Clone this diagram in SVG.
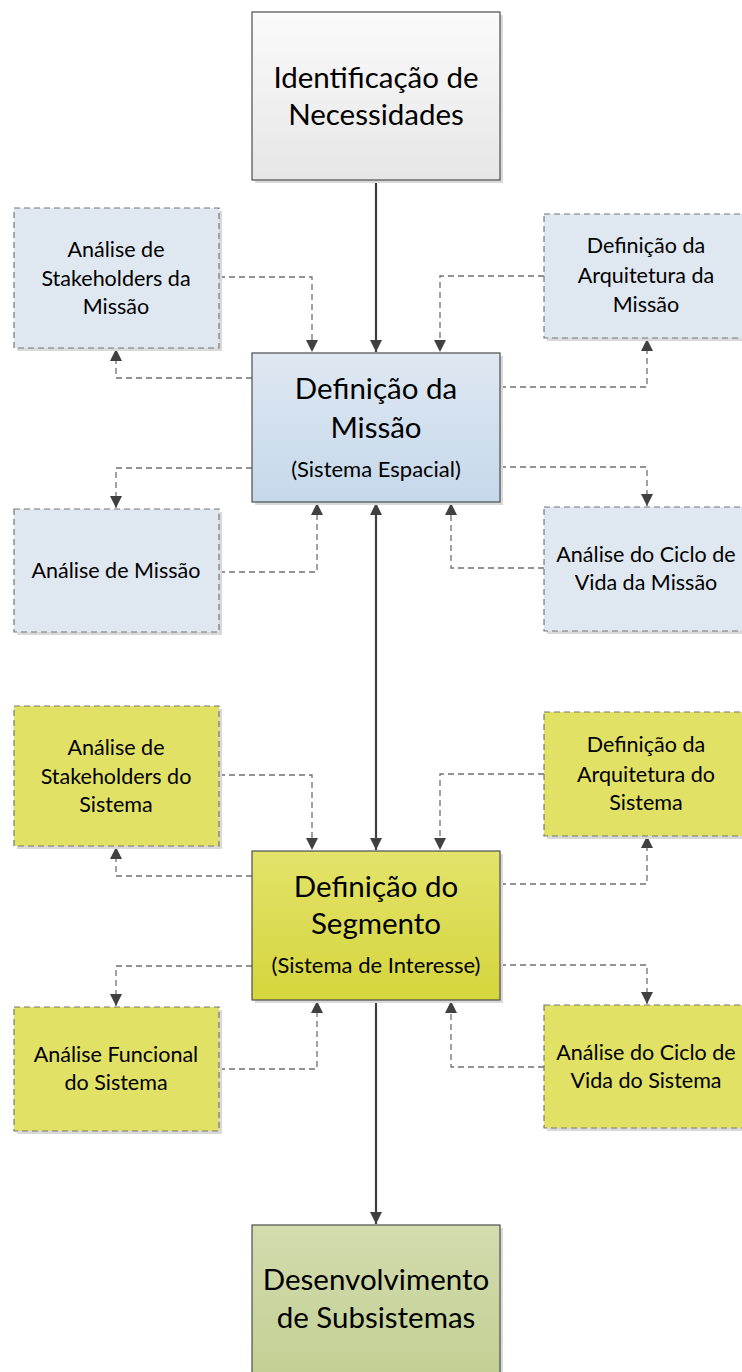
<svg xmlns="http://www.w3.org/2000/svg" width="742" height="1372" viewBox="0 0 742 1372">
<style>
.main{stroke:#4d4d4d;stroke-width:1.2}
.side{stroke:#777;stroke-width:1.2;stroke-dasharray:6 4}
.shadow{fill:#d9d9d9}
.t{font-family:Lato,"Open Sans",sans-serif;fill:#000;text-anchor:middle}
.big{font-size:29.5px}
.sub{font-size:22px}
.sm{font-size:21.5px}
.solid{fill:none;stroke:#404040;stroke-width:2.2}
.dash{fill:none;stroke:#707070;stroke-width:1.3;stroke-dasharray:6 4}
</style>
<defs>
<linearGradient id="gGray" x1="0" y1="0" x2="0" y2="1"><stop offset="0" stop-color="#fbfbfb"/><stop offset="1" stop-color="#e6e6e6"/></linearGradient>
<linearGradient id="gBlue" x1="0" y1="0" x2="0" y2="1"><stop offset="0" stop-color="#dfe8f2"/><stop offset="1" stop-color="#c5d8ea"/></linearGradient>
<linearGradient id="gYel" x1="0" y1="0" x2="0" y2="1"><stop offset="0" stop-color="#e3e36b"/><stop offset="1" stop-color="#d5d53d"/></linearGradient>
<linearGradient id="gOl" x1="0" y1="0" x2="0" y2="1"><stop offset="0" stop-color="#d2dcae"/><stop offset="1" stop-color="#c2cf92"/></linearGradient>
<marker id="ah" viewBox="0 0 12 12" refX="12" refY="6" markerWidth="12" markerHeight="12" markerUnits="userSpaceOnUse" orient="auto-start-reverse"><path d="M0,0 L12,6 L0,12 Z" fill="#404040"/></marker>
<marker id="ahs" viewBox="0 0 12 12" refX="12" refY="6" markerWidth="12" markerHeight="12" markerUnits="userSpaceOnUse" orient="auto-start-reverse"><path d="M0,0 L12,6 L0,12 Z" fill="#404040"/></marker>
</defs>

<g id="connectors">
<path class="solid" d="M376,180 V352" marker-end="url(#ah)"/>
<path class="solid" d="M376,503 V850" marker-start="url(#ah)" marker-end="url(#ah)"/>
<path class="solid" d="M376,1000 V1224" marker-end="url(#ah)"/>

<path class="dash" d="M219,277 H312 V352" marker-end="url(#ahs)"/>
<path class="dash" d="M252,378 H116 V349" marker-end="url(#ahs)"/>
<path class="dash" d="M544,276 H440 V352" marker-end="url(#ahs)"/>
<path class="dash" d="M500,387 H647 V339" marker-end="url(#ahs)"/>
<path class="dash" d="M252,468 H116 V508" marker-end="url(#ahs)"/>
<path class="dash" d="M219,572 H317 V503" marker-end="url(#ahs)"/>
<path class="dash" d="M500,467 H647 V506" marker-end="url(#ahs)"/>
<path class="dash" d="M544,568 H451 V503" marker-end="url(#ahs)"/>

<path class="dash" d="M219,775 H312 V850" marker-end="url(#ahs)"/>
<path class="dash" d="M252,876 H116 V847" marker-end="url(#ahs)"/>
<path class="dash" d="M544,774 H440 V850" marker-end="url(#ahs)"/>
<path class="dash" d="M500,884 H647 V836" marker-end="url(#ahs)"/>
<path class="dash" d="M252,966 H116 V1006" marker-end="url(#ahs)"/>
<path class="dash" d="M219,1069 H317 V1001" marker-end="url(#ahs)"/>
<path class="dash" d="M500,965 H647 V1004" marker-end="url(#ahs)"/>
<path class="dash" d="M544,1067 H451 V1001" marker-end="url(#ahs)"/>
</g>

<g id="n-identificacao">
<rect class="shadow" x="255" y="15" width="248" height="168"/>
<rect class="main" x="252" y="12" width="248" height="168" fill="url(#gGray)"/>
<text class="t big" x="376" y="88">Identificação de</text>
<text class="t big" x="376" y="125">Necessidades</text>
</g>

<g id="n-stake-missao">
<rect class="shadow" x="17" y="211" width="205" height="140"/>
<rect class="side" x="14" y="208" width="205" height="140" fill="#dfe8f1"/>
<text class="t sm" x="116" y="257">Análise de</text>
<text class="t sm" x="116" y="286">Stakeholders da</text>
<text class="t sm" x="116" y="314">Missão</text>
</g>

<g id="n-arq-missao">
<rect class="shadow" x="547" y="217" width="205" height="124"/>
<rect class="side" x="544" y="214" width="205" height="124" fill="#dfe8f1"/>
<text class="t sm" x="646" y="253">Definição da</text>
<text class="t sm" x="646" y="283">Arquitetura da</text>
<text class="t sm" x="646" y="312">Missão</text>
</g>

<g id="n-def-missao">
<rect class="shadow" x="255" y="356" width="248" height="149"/>
<rect class="main" x="252" y="353" width="248" height="149" fill="url(#gBlue)"/>
<text class="t big" x="376" y="399">Definição da</text>
<text class="t big" x="376" y="438">Missão</text>
<text class="t sub" x="376" y="477">(Sistema Espacial)</text>
</g>

<g id="n-analise-missao">
<rect class="shadow" x="17" y="512" width="205" height="123"/>
<rect class="side" x="14" y="509" width="205" height="123" fill="#dfe8f1"/>
<text class="t sm" x="116" y="578">Análise de Missão</text>
</g>

<g id="n-ciclo-missao">
<rect class="shadow" x="547" y="510" width="205" height="124"/>
<rect class="side" x="544" y="507" width="205" height="124" fill="#dfe8f1"/>
<text class="t sm" x="646" y="562">Análise do Ciclo de</text>
<text class="t sm" x="646" y="590">Vida da Missão</text>
</g>

<g id="n-stake-sistema">
<rect class="shadow" x="17" y="709" width="205" height="140"/>
<rect class="side" x="14" y="706" width="205" height="140" fill="#e1e166"/>
<text class="t sm" x="116" y="755">Análise de</text>
<text class="t sm" x="116" y="784">Stakeholders do</text>
<text class="t sm" x="116" y="812">Sistema</text>
</g>

<g id="n-arq-sistema">
<rect class="shadow" x="547" y="715" width="205" height="124"/>
<rect class="side" x="544" y="712" width="205" height="124" fill="#e1e166"/>
<text class="t sm" x="646" y="752">Definição da</text>
<text class="t sm" x="646" y="782">Arquitetura do</text>
<text class="t sm" x="646" y="810">Sistema</text>
</g>

<g id="n-def-segmento">
<rect class="shadow" x="255" y="854" width="248" height="149"/>
<rect class="main" x="252" y="851" width="248" height="149" fill="url(#gYel)"/>
<text class="t big" x="376" y="897">Definição do</text>
<text class="t big" x="376" y="934">Segmento</text>
<text class="t sub" x="376" y="973">(Sistema de Interesse)</text>
</g>

<g id="n-funcional">
<rect class="shadow" x="17" y="1010" width="205" height="124"/>
<rect class="side" x="14" y="1007" width="205" height="124" fill="#e1e166"/>
<text class="t sm" x="116" y="1062">Análise Funcional</text>
<text class="t sm" x="116" y="1090">do Sistema</text>
</g>

<g id="n-ciclo-sistema">
<rect class="shadow" x="547" y="1008" width="205" height="123"/>
<rect class="side" x="544" y="1005" width="205" height="123" fill="#e1e166"/>
<text class="t sm" x="646" y="1060">Análise do Ciclo de</text>
<text class="t sm" x="646" y="1088">Vida do Sistema</text>
</g>

<g id="n-subsistemas">
<rect class="shadow" x="255" y="1228" width="248" height="160"/>
<rect class="main" x="252" y="1225" width="248" height="160" fill="url(#gOl)"/>
<text class="t big" x="376" y="1290">Desenvolvimento</text>
<text class="t big" x="376" y="1328">de Subsistemas</text>
</g>
</svg>
